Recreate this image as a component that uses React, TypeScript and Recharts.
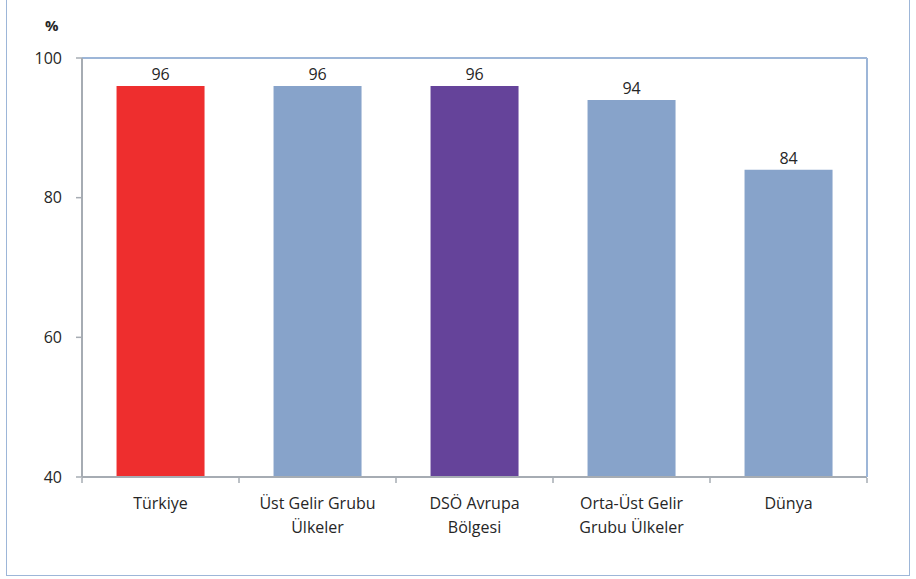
import React from 'react';
import { BarChart, Bar, XAxis, YAxis, Cell, LabelList } from 'recharts';

const categories = ['Türkiye', 'Üst Gelir Grubu\nÜlkeler', 'DSÖ Avrupa\nBölgesi', 'Orta-Üst Gelir\nGrubu Ülkeler', 'Dünya'];
const values = [96, 96, 96, 94, 84];
const barColors = ['#EE2E2E', '#87A3CA', '#65439A', '#87A3CA', '#87A3CA'];
const yTicks = [40, 60, 80, 100];
const boundaryTicks = [0, 1, 2, 3, 4, 5];

const data = categories.map((name, i) => ({ name, value: values[i], pos: i + 0.5 }));

const FONT = '"Open Sans", sans-serif';
const TEXT = '#262626';
const AXIS = '#A6ACB3';
const FRAME = '#9DB6D8';

const CategoryTick = (props: any) => {
  const { x, y, payload } = props;
  const lines = String(payload.value).split('\n');
  return (
    <text x={x} y={y} textAnchor="middle" fill={TEXT} fontSize={16} fontFamily={FONT}>
      {lines.map((l, i) => (
        <tspan key={i} x={x} dy={i === 0 ? 16 : 24}>{l}</tspan>
      ))}
    </text>
  );
};

const EmptyTick = () => <g />;

export default function App() {
  return (
    <div style={{ position: 'absolute', left: 0, top: 0, width: 916, height: 579, background: '#fff' }}>
      <div
        style={{
          position: 'absolute', left: 6, top: -6, width: 904, height: 582,
          border: `1.5px solid ${FRAME}`, boxSizing: 'border-box',
        }}
      />
      <div
        style={{
          position: 'absolute', left: 45, top: 15, fontFamily: FONT, fontWeight: 700,
          fontSize: 15, color: TEXT,
        }}
      >
        %
      </div>
      <BarChart
        width={916}
        height={579}
        data={data}
        margin={{ top: 57, right: 48, left: 0, bottom: 0 }}
        barCategoryGap="22%"
        style={{ position: 'absolute', left: 0, top: 0 }}
      >
        <XAxis
          dataKey="name"
          interval={0}
          tick={<CategoryTick />}
          tickLine={false}
          axisLine={{ stroke: AXIS, strokeWidth: 2 }}
          tickSize={0}
          tickMargin={16}
          height={1}
        />
        <XAxis
          xAxisId="bounds"
          type="number"
          dataKey="pos"
          domain={[0, 5]}
          ticks={boundaryTicks}
          interval={0}
          allowDataOverflow
          tick={<EmptyTick />}
          tickSize={5}
          axisLine={false}
          tickLine={{ stroke: AXIS, strokeWidth: 1.5 }}
          height={101}
        />
        <XAxis
          xAxisId="top"
          orientation="top"
          dataKey="name"
          tick={false}
          tickLine={false}
          axisLine={{ stroke: FRAME, strokeWidth: 2 }}
          height={1}
        />
        <YAxis
          domain={[40, 100]}
          ticks={yTicks}
          width={82}
          tickSize={6}
          tickMargin={14}
          axisLine={{ stroke: AXIS, strokeWidth: 2 }}
          tickLine={{ stroke: AXIS, strokeWidth: 1.5 }}
          tick={{ fill: TEXT, fontSize: 16, fontFamily: FONT }}
        />
        <YAxis
          yAxisId="right"
          orientation="right"
          domain={[40, 100]}
          tick={false}
          tickLine={false}
          axisLine={{ stroke: FRAME, strokeWidth: 2 }}
          width={1}
        />
        <Bar dataKey="value" isAnimationActive={false}>
          {data.map((d, i) => (
            <Cell key={d.name} fill={barColors[i]} />
          ))}
          <LabelList dataKey="value" position="top" offset={6} fill={TEXT} fontSize={16} fontFamily={FONT} />
        </Bar>
      </BarChart>
    </div>
  );
}
